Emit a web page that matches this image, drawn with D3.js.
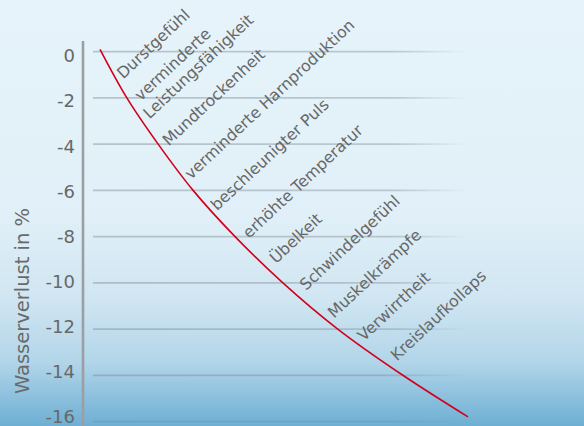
<!DOCTYPE html>
<html>
<head>
<meta charset="utf-8">
<script src="https://cdn.jsdelivr.net/npm/d3@7"></script>
<style>
  html, body { margin: 0; padding: 0; }
  body { width: 584px; height: 426px; overflow: hidden; }
</style>
</head>
<body>
<div id="chart"></div>
<script>
/* Wasserverlust curve */

// data
var lossTicks = [0, -2, -4, -6, -8, -10, -12, -14, -16];
var curveStep = [0, 7.3, 15.8, 25.3, 36.7, 49.7, 64.6, 82.3, 100];
var curveLoss = [0.1, -2, -4, -6, -8, -10, -12, -14, -15.8];
var symptoms = ["Durstgefühl", "verminderte\nLeistungsfähigkeit", "Mundtrockenheit",
  "verminderte Harnproduktion", "beschleunigter Puls", "erhöhte Temperatur",
  "Übelkeit", "Schwindelgefühl", "Muskelkrämpfe", "Verwirrtheit", "Kreislaufkollaps"];
var symptomStep = [6.3, 11.1, 18.7, 24.7, 31.8, 40.5, 47.8, 56.0, 63.6, 71.7, 80.7];
var symptomLoss = [-1.2, -2.15, -4.1, -5.55, -6.9, -8.1, -9.2, -10.35, -11.55, -12.55, -13.4];
var yTitle = "Wasserverlust in %";

var W = 584, H = 426;

var svg = d3.select("#chart")
  .append("svg")
  .attr("width", W)
  .attr("height", H);

var defs = svg.append("defs");
var bg = defs.append("linearGradient")
  .attr("id", "bg").attr("x1", 0).attr("y1", 0).attr("x2", 0).attr("y2", 1);
[[0, "#e6f3fa"], [0.5, "#e1f0f8"], [0.7, "#d0e6f2"], [0.85, "#b2d5e9"], [1, "#6dafd3"]]
  .forEach(function(s){ bg.append("stop").attr("offset", s[0]).attr("stop-color", s[1]); });

var gridFade = defs.append("linearGradient")
  .attr("id", "gridFade").attr("gradientUnits", "userSpaceOnUse")
  .attr("x1", 93).attr("x2", 468).attr("y1", 0).attr("y2", 0);
gridFade.append("stop").attr("offset", 0).attr("stop-color", "#7d8890").attr("stop-opacity", 0.45);
gridFade.append("stop").attr("offset", 0.8).attr("stop-color", "#7d8890").attr("stop-opacity", 0.4);
gridFade.append("stop").attr("offset", 1).attr("stop-color", "#7d8890").attr("stop-opacity", 0);

svg.append("rect").attr("width", W).attr("height", H).attr("fill", "url(#bg)");

// scales
var xScale = d3.scaleLinear().domain([0, 100]).range([100, 468]);
var yScale = d3.scaleLinear().domain([0, -16]).range([51.7, 421.5]);
// tick labels sit on a slightly tighter spacing than the grid
var yLabel = yScale.copy().range([56, 417]);

// grid
svg.append("g")
  .selectAll("line")
  .data(lossTicks).enter()
  .append("line")
  .attr("x1", 93).attr("x2", 468)
  .attr("y1", function(d){ return yScale(d); })
  .attr("y2", function(d){ return yScale(d); })
  .attr("stroke", "url(#gridFade)")
  .attr("stroke-width", 1.7);

// axis
var yAxis = svg.append("g")
  .attr("transform", "translate(83,0)")
  .call(d3.axisLeft(yLabel).tickValues(lossTicks).tickSize(0).tickPadding(8)
    .tickFormat(function(d){ return d === 0 ? "0" : "-" + Math.abs(d); }));
yAxis.select(".domain").remove();
yAxis.selectAll("text")
  .attr("fill", "#686868")
  .style("font-family", "DejaVu Sans")
  .style("font-size", "18px");

svg.append("line")
  .attr("x1", 83).attr("x2", 83)
  .attr("y1", 41).attr("y2", H)
  .attr("stroke", "#9b9fa3")
  .attr("stroke-width", 2.6);

svg.append("text")
  .attr("transform", "translate(29," + 301 + ")rotate(-90)")
  .attr("text-anchor", "middle")
  .attr("fill", "#6a6a6a")
  .style("font-family", "DejaVu Sans")
  .style("font-size", "19.5px")
  .text(yTitle);

// curve
var pts = curveStep.map(function(s, i){ return [s, curveLoss[i]]; });
var line = d3.line()
  .x(function(d){ return xScale(d[0]); })
  .y(function(d){ return yScale(d[1]); })
  .curve(d3.curveCatmullRom.alpha(0.5));

svg.append("path")
  .datum(pts)
  .attr("d", line)
  .attr("fill", "none")
  .attr("stroke", "#d3001c")
  .attr("stroke-width", 1.6);

// symptom labels
var lab = svg.append("g")
  .selectAll("text")
  .data(symptoms).enter()
  .append("text")
  .attr("transform", function(d, i){
    return "translate(" + xScale(symptomStep[i]) + "," + yScale(symptomLoss[i]) + ")rotate(-43)";
  })
  .attr("fill", "#676767")
  .style("font-family", "DejaVu Sans")
  .style("font-size", "15.8px");

lab.each(function(d){
  var el = d3.select(this);
  d.split("\n").forEach(function(part, j){
    el.append("tspan")
      .attr("x", j ? -6 : 0)
      .attr("dy", j ? 19 : 0)
      .text(part);
  });
});
</script>
</body>
</html>
